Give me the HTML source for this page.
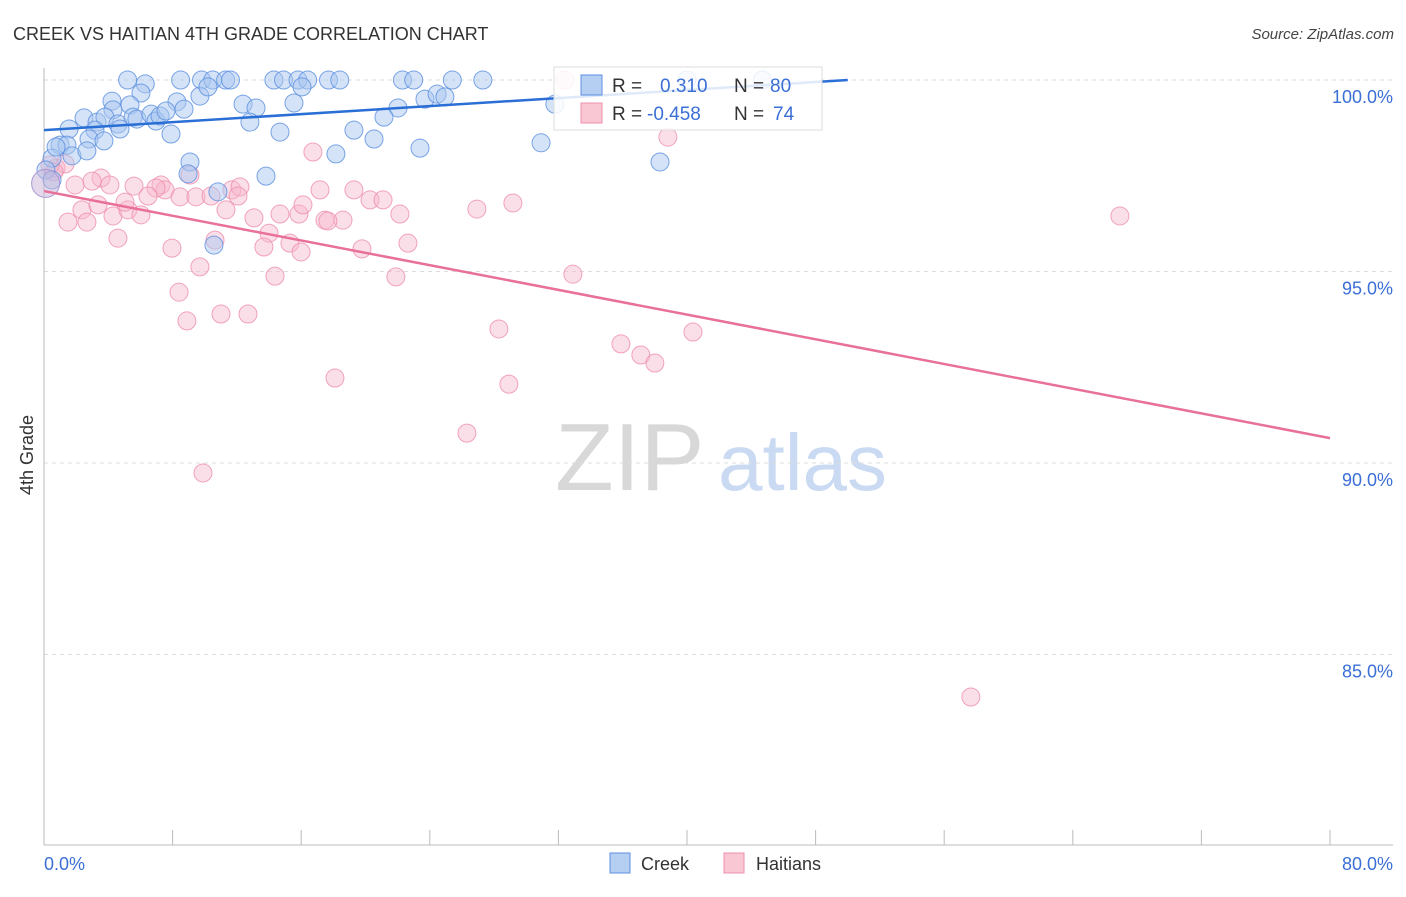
<!DOCTYPE html>
<html><head><meta charset="utf-8"><style>
body{margin:0;background:#fff;font-family:"Liberation Sans",sans-serif;}
svg text{font-family:"Liberation Sans",sans-serif;}
</style></head><body>
<svg id="chart" width="1406" height="892" xmlns="http://www.w3.org/2000/svg">
<text x="13" y="40" font-size="18" fill="#333">CREEK VS HAITIAN 4TH GRADE CORRELATION CHART</text>
<text x="1394" y="39" font-size="15" fill="#444" font-style="italic" text-anchor="end">Source: ZipAtlas.com</text>
<g>
<text x="555" y="490" font-size="96" fill="#d8d8d8" font-family="Liberation Serif, serif">ZIP</text>
<text x="718" y="490" font-size="80" fill="#c9daf2">atlas</text>
</g>
<g id="grid"></g>
<g id="axes"></g>
<g id="marks"></g>
<text transform="translate(33,455) rotate(-90)" font-size="18" fill="#333" text-anchor="middle">4th Grade</text>
<g>
<rect x="554" y="67" width="268" height="63" fill="#fff" fill-opacity="0.85" stroke="#ddd"/>
<rect x="581" y="75" width="21" height="20" fill="#b5cff3" stroke="#5b8fe0"/>
<text x="612" y="92" font-size="19" fill="#333">R = </text>
<text x="660" y="92" font-size="19" fill="#3b6fd6">0.310</text>
<text x="734" y="92" font-size="19" fill="#333">N = </text>
<text x="770" y="92" font-size="19" fill="#3b6fd6">80</text>
<rect x="581" y="103" width="21" height="20" fill="#f9c6d4" stroke="#ee8fab"/>
<text x="612" y="120" font-size="19" fill="#333">R = </text>
<text x="647" y="120" font-size="19" fill="#3b6fd6">-0.458</text>
<text x="734" y="120" font-size="19" fill="#333">N = </text>
<text x="773" y="120" font-size="19" fill="#3b6fd6">74</text>
</g>
<g>
<rect x="610" y="853" width="20" height="20" fill="#b5cff3" stroke="#5b8fe0"/>
<text x="641" y="870" font-size="18" fill="#333">Creek</text>
<rect x="724" y="853" width="20" height="20" fill="#f9c6d4" stroke="#ee8fab"/>
<text x="756" y="870" font-size="18" fill="#333">Haitians</text>
</g>
</svg>
<script>
const creekPoints=[[5.2,100],[6.3,99.9],[8.5,100],[9.8,100],[10.5,100],[11.3,100],[11.6,100],[14.3,100],[14.9,100],[15.8,100],[16.4,100],[17.7,100],[18.4,100],[22.3,100],[23.0,100],[25.4,100],[27.3,100],[40.0,100],[44.7,100],
[6.03,99.66],[4.23,99.45],[4.29,99.22],[5.35,99.35],[8.27,99.43],[8.71,99.24],[9.7,99.58],[10.2,99.82],[12.38,99.37],[13.19,99.27],[15.55,99.4],[16.05,99.82],[22.02,99.27],[23.7,99.5],[24.45,99.63],[24.94,99.56],[21.15,99.03],[31.78,99.37],
[2.49,99.01],[3.3,98.9],[3.79,99.03],[4.6,98.85],[5.54,99.03],[5.78,98.98],[6.66,99.11],[6.97,98.93],[7.22,99.06],[7.59,99.19],[12.81,98.9],[14.68,98.64],[19.28,98.69],[20.53,98.46],[7.9,98.59],[3.17,98.69],[2.8,98.46],[1.56,98.72],[3.73,98.41],[1.0,98.3],[1.43,98.3],[0.5,97.96],[1.74,98.02],[2.67,98.15],[0.75,98.25],[4.73,98.72],[18.16,98.07],[23.39,98.22],[30.92,98.36],[9.08,97.86],[13.81,97.49],[38.32,97.86],[8.96,97.55],[10.82,97.08],[10.57,95.69],[0.12,97.65],[0.5,97.39]];
const haitianPoints=[[32.41,100],[38.81,98.51],[16.73,98.12],[9.08,97.52],[3.55,97.44],[1.93,97.26],[2.99,97.36],[5.6,97.23],[7.28,97.26],[7.53,97.13],[6.97,97.18],[6.47,96.97],[8.46,96.95],[9.45,96.95],[10.39,96.97],[11.69,97.13],[12.19,97.21],[12.07,96.97],[11.32,96.61],[17.17,97.13],[19.28,97.13],[20.28,96.87],[21.09,96.87],[15.86,96.5],[16.11,96.74],[14.68,96.5],[13.06,96.4],[17.48,96.34],[18.6,96.34],[17.66,96.32],[14.0,96.0],[13.68,95.64],[15.3,95.74],[15.99,95.51],[19.78,95.59],[22.64,95.74],[22.14,96.5],[26.93,96.63],[29.17,96.79],[66.93,96.45],[0.75,97.7],[1.31,97.81],[0.37,97.78],[0.62,97.6],[2.36,96.61],[2.67,96.29],[1.49,96.29],[3.36,96.74],[4.29,96.45],[5.22,96.61],[6.03,96.48],[4.6,95.87],[5.04,96.81],[7.96,95.61],[9.7,95.12],[14.37,94.88],[21.89,94.86],[32.9,94.93],[8.4,94.46],[8.89,93.71],[11.01,93.89],[12.69,93.89],[28.3,93.5],[40.37,93.42],[35.89,93.11],[37.13,92.82],[38.0,92.61],[18.1,92.22],[28.92,92.06],[26.31,90.78],[9.89,89.74],[57.66,83.89],[4.1,97.26],[10.64,95.82]];
const creekTrend=[[0,98.69],[50,100.0]];
const haitianTrend=[[0,97.1],[80,90.65]];
const yTicks=[100,95,90,85];
const yTickLabels=["100.0%","95.0%","90.0%","85.0%"];
const xTickCount=10;
const xLabels=["0.0%","80.0%"];

const NS="http://www.w3.org/2000/svg";
function xs(v){return 44+v*(1286/80);}
function ys(v){return 80+(100-v)*38.3;}
function mk(tag,attrs,parent){const e=document.createElementNS(NS,tag);for(const k in attrs)e.setAttribute(k,attrs[k]);parent.appendChild(e);return e;}
const grid=document.getElementById('grid'),axes=document.getElementById('axes'),marks=document.getElementById('marks');
yTicks.forEach((t,i)=>{
  const l=mk('line',{x1:44,x2:1393,y1:ys(t),y2:ys(t),stroke:'#dcdcdc','stroke-dasharray':'4,4'},grid);
  
  
  const tx=mk('text',{x:1393,y:ys(t)+23,'font-size':18,fill:'#3b6fd6','text-anchor':'end'},axes);
  tx.textContent=yTickLabels[i];
  
  
});
const ya=mk('line',{x1:44,x2:44,y1:68,y2:845,stroke:'#bbb'},axes);


const xa=mk('line',{x1:44,x2:1393,y1:845,y2:845,stroke:'#bbb'},axes);


for(let k=1;k<=xTickCount;k++){
  const t=mk('line',{x1:xs(k*8),x2:xs(k*8),y1:830,y2:845,stroke:'#bbb'},axes);
  
  
}
const xl0=mk('text',{x:44,y:870,'font-size':18,fill:'#3b6fd6'},axes);xl0.textContent=xLabels[0];


const xl1=mk('text',{x:1393,y:870,'font-size':18,fill:'#3b6fd6','text-anchor':'end'},axes);xl1.textContent=xLabels[1];



haitianPoints.forEach(p=>{
  const c=mk('circle',{cx:xs(p[0]),cy:ys(p[1]),r:9,fill:'#f7b8cb','fill-opacity':0.45,stroke:'#ee8fab','stroke-opacity':0.8},marks);
  
  
});
creekPoints.forEach(p=>{
  const c=mk('circle',{cx:xs(p[0]),cy:ys(p[1]),r:9,fill:'#a9c8f0','fill-opacity':0.5,stroke:'#5b8fe0','stroke-opacity':0.8},marks);
  
  
});
const big=mk('circle',{cx:xs(0.1),cy:ys(97.3),r:14,fill:'#c8b4d8','fill-opacity':0.5,stroke:'#a99ad6'},marks);


const t1=mk('line',{x1:xs(creekTrend[0][0]),y1:ys(creekTrend[0][1]),x2:xs(creekTrend[1][0]),y2:ys(creekTrend[1][1]),stroke:'#2a6fd6','stroke-width':2.5},marks);


const t2=mk('line',{x1:xs(haitianTrend[0][0]),y1:ys(haitianTrend[0][1]),x2:xs(haitianTrend[1][0]),y2:ys(haitianTrend[1][1]),stroke:'#e8709a','stroke-width':2.5},marks);


</script>
</body></html>
